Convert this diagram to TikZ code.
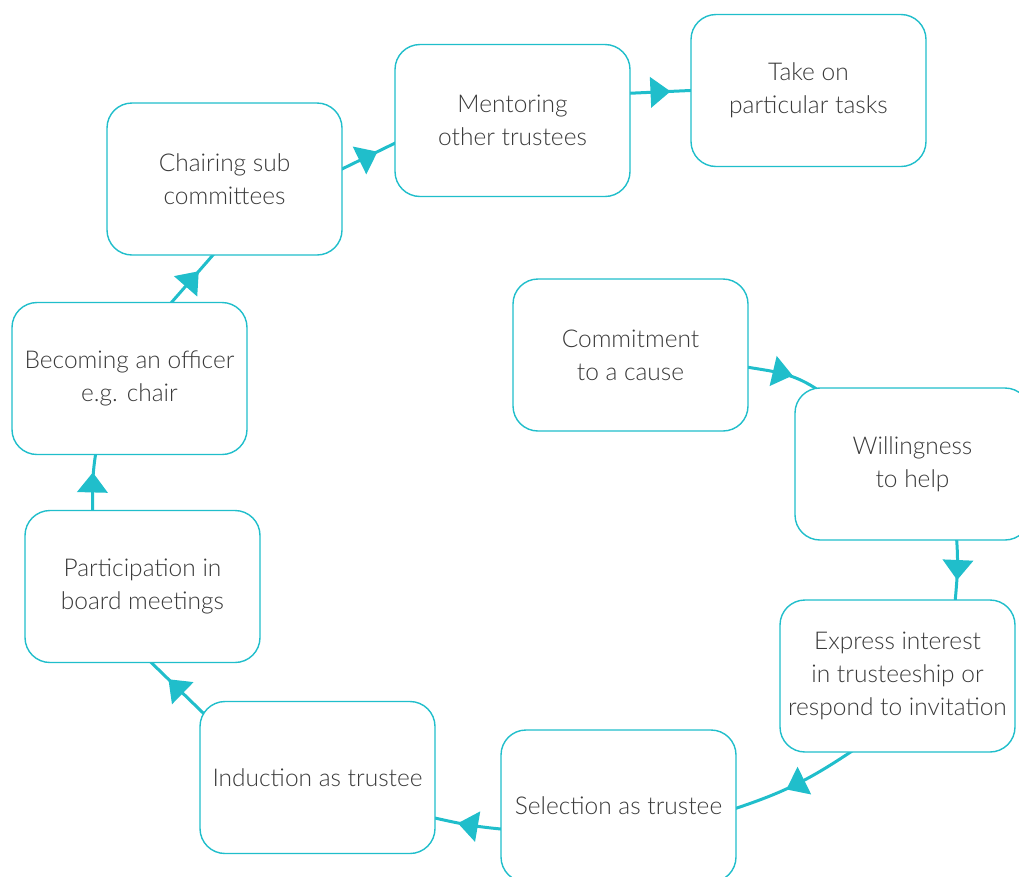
\documentclass[tikz,border=0pt]{standalone}
\usepackage{fontspec}
\IfFontExistsTF{Lato Light}{\setmainfont{Lato Light}}{\setmainfont{Lato}}
\usetikzlibrary{decorations.markings,backgrounds}
\definecolor{cyc}{RGB}{32,190,203}
\definecolor{ink}{RGB}{58,58,58}
\begin{document}
\begin{tikzpicture}[x=1pt,y=1pt,
  stage/.style={draw=cyc, line width=1.4pt, fill=white, rounded corners=25pt,
    minimum width=235pt, minimum height=152pt, inner sep=0pt, align=center,
    text=ink, font=\fontsize{24.5}{33}\selectfont},
  flow/.style={draw=cyc, line width=3pt, shorten <=-8pt, shorten >=-8pt,
    postaction={decorate},
    decoration={markings, mark=at position 0.5 with
      {\fill[cyc] (-10pt,-15.5pt) -- (10pt,0pt) -- (-10pt,15.5pt) -- cycle;}}}
]
\useasboundingbox (0,0) rectangle (1019,-876);

% stages of the trustee journey
\node[stage] (chair)   at (224.5,-179)   {Chairing sub\\committees};
\node[stage] (mentor)  at (512.5,-120.5) {Mentoring\\other trustees};
\node[stage] (take)    at (808.5,-90.5)  {Take on\\particular tasks};
\node[stage] (commit)  at (630.5,-355)   {Commitment\\to a cause};
\node[stage] (will)    at (912.5,-464)   {Willingness\\to help};
\node[stage] (express) at (897.5,-676)   {Express interest\\in trusteeship or\\respond to invitation};
\node[stage] (select)  at (618.5,-806)   {Selection as trustee};
\node[stage] (induct)  at (317.5,-777.5) {Induction as trustee};
\node[stage] (part)    at (142.5,-586.5) {Participation in\\board meetings};
\node[stage] (becom)   at (129.5,-378.5) {Becoming an officer\\e.g. chair};

% connectors, kept behind the boxes
\begin{scope}[on background layer]
\draw[flow] (commit.-6) to[out=-10, in=145] (will.142.7);
\draw[flow] (will.-60.5) to[out=-85, in=85] (express.53.4);
\draw[flow] (express.238) to[out=214, in=18] (select.-1);
\draw[flow] (select.191) to[out=175, in=-13] (induct.-19.9);
\draw[flow] (induct.150.2) -- (part.-83);
\draw[flow] (part.123.2) to[out=90, in=-100] (becom.246.7);
\draw[flow] (becom.61.8) -- (chair.261.4);
\draw[flow] (chair.5.3) -- (mentor.191.8);
\draw[flow] (mentor.13.2) -- (take.180.2);
\end{scope}
\end{tikzpicture}
\end{document}
